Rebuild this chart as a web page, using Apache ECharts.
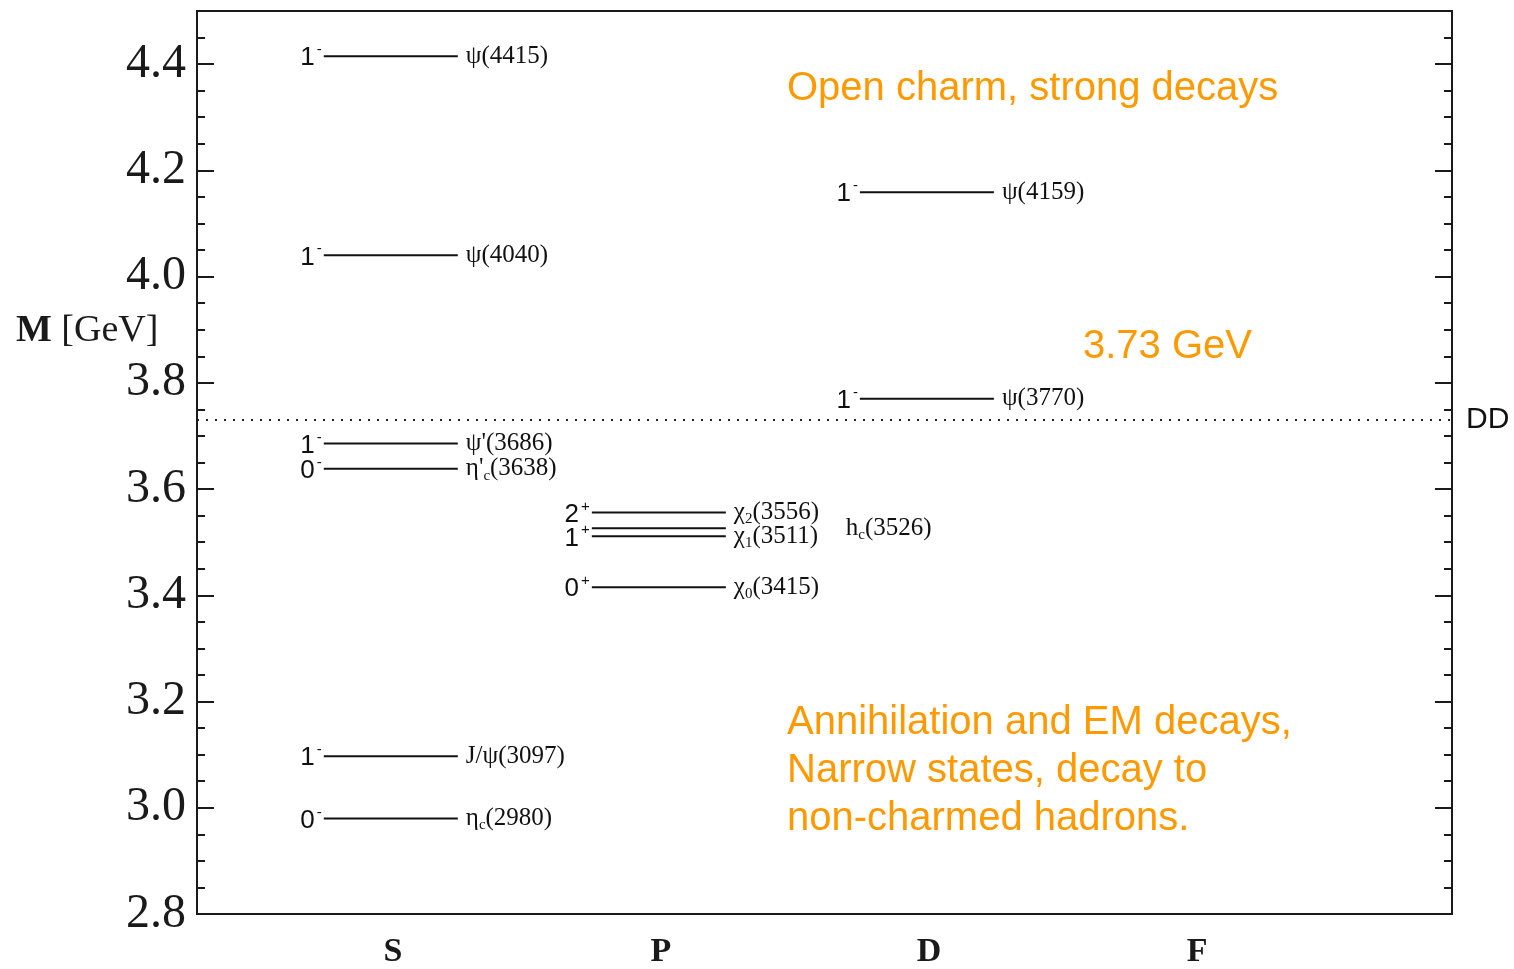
<!DOCTYPE html>
<html>
<head>
<meta charset="utf-8">
<script src="https://cdn.jsdelivr.net/npm/echarts@6/dist/echarts.min.js"></script>
<style>
  html, body { margin: 0; padding: 0; background: #fff; }
  #chart { width: 1514px; height: 969px; }
</style>
</head>
<body>
<div id="chart"></div>
<script>
// partial waves on the x axis
const waves = ['S', 'P', 'D', 'F'];
// y axis tick labels (GeV)
const yTicks = [2.8, 3.0, 3.2, 3.4, 3.6, 3.8, 4.0, 4.2, 4.4];

// charmonium levels
const levelWave = [0, 0, 0, 0, 0, 0, 1, 1, 1, 1, 2, 2];
const levelMass = [4.415, 4.040, 3.686, 3.638, 3.097, 2.980, 3.556, 3.526, 3.511, 3.415, 4.159, 3.770];
const levelJpc = ['1-', '1-', '1-', '0-', '1-', '0-', '2+', '', '1+', '0+', '1-', '1-'];
const levelName = ['ψ(4415)', 'ψ(4040)', "ψ'(3686)", "η'_c(3638)", 'J/ψ(3097)', 'η_c(2980)',
  'χ_2(3556)', 'h_c(3526)', 'χ_1(3511)', 'χ_0(3415)', 'ψ(4159)', 'ψ(3770)'];

// open-charm threshold
const ddThreshold = 3.73;

const serif = '"Liberation Serif", "DejaVu Serif", serif';
const sans = '"Liberation Sans", Arial, sans-serif';
const orange = '#ff9900';
const ink = '#1a1a1a';

// the h_c label sits off to the right of the chi labels
const nameShift = { 'h_c(3526)': 112 };

function jpcRich(s) {
  if (!s) return '';
  return '{j|' + s[0] + '}{sup|' + (s[1] === '-' ? '-' : '+') + '}';
}

function nameRich(s) {
  const m = s.match(/^(.*?)(?:_(\w))?(\(.*\))$/);
  let out = '{n|' + m[1] + '}';
  if (m[2]) out += '{sub|' + m[2] + '}';
  out += '{n|' + m[3] + '}';
  return out;
}

const chart = echarts.init(document.getElementById('chart'));

const yBase = {
  type: 'value', min: 2.8, max: 4.5,
  splitLine: { show: false },
  axisLine: { show: false, onZero: false }
};

chart.setOption({
  backgroundColor: '#fff',
  animation: false,
  grid: {
    left: 197, right: 62, top: 11, bottom: 54,
    show: true, borderColor: ink, borderWidth: 2
  },
  xAxis: {
    type: 'value',
    min: -0.731,
    max: 3.951,
    axisLine: { show: false, onZero: false },
    axisTick: { show: false },
    splitLine: { show: false },
    axisLabel: {
      customValues: [0, 1, 2, 3],
      formatter: v => waves[Math.round(v)],
      fontFamily: serif,
      fontWeight: 'bold',
      fontSize: 34,
      color: ink,
      margin: 21
    }
  },
  yAxis: [
    Object.assign({}, yBase, {
      position: 'left',
      axisTick: { inside: true, length: 17, customValues: yTicks, lineStyle: { color: ink, width: 2 } },
      axisLabel: {
        customValues: yTicks,
        formatter: v => v.toFixed(1),
        fontFamily: serif, fontSize: 48, color: ink, margin: 11
      }
    }),
    Object.assign({}, yBase, {
      position: 'left', interval: 0.05,
      axisTick: { inside: true, length: 8, lineStyle: { color: ink, width: 2 } },
      axisLabel: { show: false }
    }),
    Object.assign({}, yBase, {
      position: 'right',
      axisTick: { inside: true, length: 17, customValues: yTicks, lineStyle: { color: ink, width: 2 } },
      axisLabel: { show: false }
    }),
    Object.assign({}, yBase, {
      position: 'right', interval: 0.05,
      axisTick: { inside: true, length: 8, lineStyle: { color: ink, width: 2 } },
      axisLabel: { show: false }
    })
  ],
  graphic: [
    {
      type: 'text', left: 16, top: 312,
      style: { text: '{b|M} [GeV]', font: '38px ' + serif, fill: ink,
        rich: { b: { fontFamily: serif, fontSize: 38, fontWeight: 'bold', fill: ink } } }
    },
    {
      type: 'text', left: 787, top: 69,
      style: { text: 'Open charm, strong decays', font: '40px ' + sans, fill: orange }
    },
    {
      type: 'text', left: 1083, top: 327,
      style: { text: '3.73 GeV', font: '40px ' + sans, fill: orange }
    },
    {
      type: 'text', left: 787, top: 699,
      style: {
        text: 'Annihilation and EM decays,\nNarrow states, decay to\nnon-charmed hadrons.',
        font: '40px ' + sans, fill: orange, lineHeight: 48
      }
    }
  ],
  series: [
    {
      type: 'custom',
      xAxisIndex: 0,
      yAxisIndex: 0,
      clip: false,
      data: levelMass.map((m, i) => [levelWave[i], m]),
      renderItem(params, api) {
        const i = params.dataIndex;
        const x = api.value(0);
        const m = api.value(1);
        const p0 = api.coord([x - 0.258, m]);
        const p1 = api.coord([x + 0.242, m]);
        const name = levelName[i];
        return {
          type: 'group',
          children: [
            {
              type: 'line',
              shape: { x1: p0[0], y1: p0[1], x2: p1[0], y2: p1[1] },
              style: { stroke: '#111', lineWidth: 2 }
            },
            {
              type: 'text',
              style: {
                text: jpcRich(levelJpc[i]),
                x: p0[0] - 2, y: p0[1] + 2,
                align: 'right', verticalAlign: 'middle',
                rich: {
                  j: { fontFamily: sans, fontSize: 26, fill: '#111' },
                  sup: { fontFamily: sans, fontSize: 15, fill: '#111', padding: [0, 0, 16, 2] }
                }
              }
            },
            {
              type: 'text',
              style: {
                text: nameRich(name),
                x: p1[0] + 8 + (nameShift[name] || 0), y: p1[1],
                align: 'left', verticalAlign: 'middle',
                rich: {
                  n: { fontFamily: serif, fontSize: 25, fill: '#111' },
                  sub: { fontFamily: serif, fontSize: 15, fill: '#111', padding: [14, 0, 0, 0] }
                }
              }
            }
          ]
        };
      },
      markLine: {
        silent: true,
        symbol: 'none',
        lineStyle: { type: [2, 7], color: '#222', width: 2 },
        label: {
          position: 'end', formatter: 'DD', distance: 14,
          fontFamily: sans, fontSize: 30, color: '#111', padding: [8, 0, 0, 0]
        },
        data: [{ yAxis: ddThreshold }]
      }
    }
  ]
});
</script>
</body>
</html>
